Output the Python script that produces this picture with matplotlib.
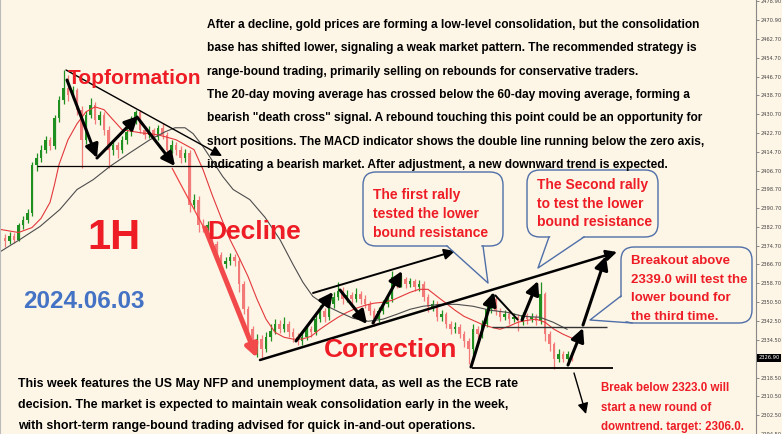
import matplotlib
matplotlib.use("Agg")
import matplotlib.pyplot as plt
import numpy as np
from matplotlib.patches import FancyBboxPatch, Polygon
from matplotlib.transforms import Affine2D, blended_transform_factory

# ---- data (1H gold candles) ----
opens = [2378.1, 2376.5, 2379.0, 2377.3, 2383.3, 2385.8, 2388.4, 2409.2, 2412.2, 2415.6,
         2419.8, 2417.3, 2429.2, 2436.8, 2441.9, 2438.9, 2441.1, 2432.6, 2419.8, 2430.4,
         2434.7, 2428.3, 2430.4, 2424.1, 2415.6, 2417.7, 2415.6, 2419.8, 2423.2, 2428.3,
         2431.7, 2424.1, 2421.9, 2424.1, 2421.1, 2424.9, 2421.9, 2415.6, 2417.7, 2415.6,
         2412.2, 2414.3, 2392.2, 2394.3, 2383.7, 2382.4, 2383.3, 2375.2, 2370.9, 2366.7,
         2368.0, 2369.7, 2368.0, 2358.2, 2347.6, 2339.1, 2332.7, 2334.9, 2330.6, 2335.7,
         2338.3, 2341.2, 2339.1, 2341.2, 2337.8, 2335.7, 2334.0, 2335.7, 2339.1, 2337.8,
         2343.4, 2346.8, 2344.2, 2349.7, 2352.7, 2355.3, 2351.9, 2353.6, 2351.9, 2354.0,
         2351.9, 2349.7, 2346.8, 2343.4, 2346.8, 2349.7, 2351.9, 2361.2, 2358.2, 2360.4,
         2358.2, 2359.5, 2357.0, 2358.2, 2352.7, 2348.5, 2349.7, 2344.2, 2345.5, 2341.2,
         2339.1, 2340.0, 2337.0, 2334.0, 2330.6, 2339.1, 2337.0, 2341.2, 2347.6, 2351.9,
         2346.8, 2344.2, 2345.5, 2343.4, 2344.2, 2342.5, 2345.1, 2343.4, 2344.2, 2342.5,
         2354.0, 2337.0, 2332.7, 2326.4, 2328.5, 2326.4, 2328.5]
closes = [2376.5, 2379.0, 2377.3, 2383.3, 2385.8, 2388.4, 2409.2, 2412.2, 2415.6, 2419.8,
          2417.3, 2429.2, 2436.8, 2441.9, 2438.9, 2441.1, 2432.6, 2419.8, 2430.4, 2434.7,
          2428.3, 2430.4, 2424.1, 2415.6, 2417.7, 2415.6, 2419.8, 2423.2, 2428.3, 2431.7,
          2424.1, 2421.9, 2424.1, 2421.1, 2424.9, 2421.9, 2415.6, 2417.7, 2415.6, 2412.2,
          2414.3, 2392.2, 2394.3, 2383.7, 2382.4, 2383.3, 2375.2, 2370.9, 2366.7, 2368.0,
          2369.7, 2368.0, 2358.2, 2347.6, 2339.1, 2332.7, 2334.9, 2330.6, 2335.7, 2338.3,
          2341.2, 2339.1, 2341.2, 2337.8, 2335.7, 2334.0, 2335.7, 2339.1, 2337.8, 2343.4,
          2346.8, 2344.2, 2349.7, 2352.7, 2355.3, 2351.9, 2353.6, 2351.9, 2354.0, 2351.9,
          2349.7, 2346.8, 2343.4, 2346.8, 2349.7, 2351.9, 2361.2, 2358.2, 2360.4, 2358.2,
          2359.5, 2357.0, 2358.2, 2352.7, 2348.5, 2349.7, 2344.2, 2345.5, 2341.2, 2339.1,
          2340.0, 2337.0, 2334.0, 2330.6, 2339.1, 2337.0, 2341.2, 2347.6, 2351.9, 2346.8,
          2344.2, 2345.5, 2343.4, 2344.2, 2342.5, 2345.1, 2343.4, 2344.2, 2342.5, 2354.0,
          2337.0, 2332.7, 2326.4, 2328.5, 2326.4, 2328.5, 2326.9]
highs = [2379.5, 2380.5, 2380.0, 2384.5, 2387.5, 2390.5, 2410.5, 2414.0, 2417.5, 2421.5,
         2421.0, 2430.5, 2438.5, 2449.6, 2447.4, 2442.5, 2442.0, 2434.0, 2432.0, 2437.7,
         2436.0, 2432.0, 2431.5, 2425.5, 2419.5, 2419.0, 2421.5, 2425.0, 2430.0, 2432.6,
         2432.5, 2425.5, 2425.5, 2425.0, 2426.0, 2427.1, 2423.0, 2419.5, 2419.0, 2417.0,
         2416.0, 2415.5, 2396.5, 2396.0, 2386.0, 2385.0, 2384.5, 2376.5, 2372.0, 2370.0,
         2371.5, 2371.0, 2369.5, 2359.5, 2349.0, 2340.5, 2337.0, 2336.5, 2338.0, 2341.5,
         2343.5, 2343.0, 2344.5, 2342.5, 2339.5, 2337.5, 2337.5, 2341.0, 2340.5, 2345.0,
         2349.5, 2348.0, 2352.0, 2355.0, 2359.1, 2357.0, 2356.0, 2355.0, 2356.5, 2355.5,
         2353.5, 2351.0, 2348.0, 2348.5, 2351.5, 2353.5, 2363.7, 2362.5, 2362.0, 2361.5,
         2361.0, 2360.5, 2360.0, 2359.5, 2354.0, 2351.5, 2351.0, 2347.5, 2346.5, 2342.5,
         2342.0, 2341.5, 2338.5, 2335.5, 2341.5, 2340.5, 2343.0, 2349.5, 2354.0, 2353.0,
         2348.0, 2347.5, 2347.0, 2346.0, 2345.5, 2346.5, 2346.0, 2346.0, 2345.5, 2359.1,
         2355.0, 2338.5, 2333.5, 2330.5, 2330.0, 2330.0, 2329.5]
lows = [2374.0, 2375.5, 2375.8, 2376.5, 2382.0, 2384.5, 2387.5, 2406.5, 2410.5, 2414.0,
        2415.5, 2416.0, 2427.5, 2435.0, 2436.5, 2437.0, 2430.5, 2407.9, 2418.0, 2429.0,
        2426.5, 2426.0, 2422.0, 2407.9, 2413.5, 2412.0, 2414.0, 2418.0, 2421.5, 2426.5,
        2422.5, 2420.0, 2420.5, 2419.5, 2419.5, 2420.0, 2413.5, 2414.0, 2413.5, 2410.0,
        2410.5, 2389.2, 2390.5, 2380.7, 2380.5, 2381.0, 2373.0, 2368.5, 2364.0, 2365.0,
        2366.5, 2366.0, 2354.8, 2345.5, 2337.0, 2330.0, 2327.2, 2326.4, 2329.5, 2334.0,
        2337.0, 2337.5, 2338.0, 2336.0, 2333.5, 2332.5, 2332.5, 2334.5, 2336.0, 2336.5,
        2342.0, 2342.0, 2343.0, 2348.0, 2351.5, 2350.0, 2350.5, 2350.0, 2350.5, 2350.0,
        2348.0, 2345.0, 2340.4, 2342.0, 2345.5, 2348.5, 2350.5, 2356.5, 2357.0, 2356.5,
        2357.0, 2355.5, 2355.5, 2351.0, 2346.5, 2347.0, 2342.5, 2342.5, 2339.5, 2337.0,
        2337.5, 2335.5, 2331.5, 2324.2, 2326.4, 2334.5, 2335.5, 2340.0, 2346.0, 2345.0,
        2342.5, 2343.0, 2341.5, 2342.0, 2338.5, 2341.0, 2341.5, 2342.0, 2341.0, 2341.5,
        2334.0, 2330.0, 2322.1, 2325.0, 2325.0, 2325.5, 2325.5]

# moving averages sampled along the chart (candle index, price)
ma20_x = [-1, 3, 6, 8, 10, 11, 12, 14, 16, 18, 20, 22, 24, 26, 30, 34, 38, 40, 42, 44,
          46, 48, 50, 52, 54, 56, 58, 60, 62, 64, 66, 68, 70, 72, 74, 76, 78, 80, 82, 84,
          86, 88, 90, 92, 94, 96, 98, 100, 102, 104, 106, 108, 110, 112, 114, 116, 118,
          120, 122, 124, 126]
ma20 = [2381.6, 2380.3, 2382.4, 2386.3, 2393.1, 2400.7, 2409.2, 2419.8, 2426.6, 2431.7,
        2433.8, 2432.6, 2428.3, 2424.1, 2422.8, 2421.9, 2419.8, 2417.7, 2415.6, 2407.1,
        2396.5, 2386.7, 2377.3, 2369.7, 2361.6, 2351.9, 2343.4, 2337.8, 2335.7, 2334.9,
        2334.9, 2336.1, 2339.1, 2341.7, 2344.2, 2346.3, 2348.0, 2349.3, 2350.2, 2350.6,
        2351.4, 2353.1, 2354.8, 2356.1, 2356.1, 2353.1, 2350.2, 2347.2, 2344.6, 2342.9,
        2341.2, 2340.0, 2339.1, 2340.4, 2342.1, 2342.9, 2343.4, 2342.1, 2339.1, 2337.0,
        2335.3]
ma60_x = [-1, 3.3, 7.8, 12.2, 16, 19.6, 23.3, 27.8, 32.2, 35.6, 37.8, 40, 41.8, 44, 46.2,
          48.4, 50.7, 54.4, 57.8, 61.1, 64, 66.2, 68.4, 71.6, 74.4, 77.3, 80.7, 84, 87.1,
          90, 92.9, 96.7, 100.4, 104, 107.8, 111.6, 115.1, 118.9, 121.8, 124.9]
ma60 = [2372.2, 2377.3, 2382.9, 2390.1, 2398.6, 2402.8, 2408.4, 2414.3, 2419.8, 2423.2,
        2424.9, 2424.9, 2422.4, 2416.9, 2410.5, 2404.1, 2398.6, 2394.3, 2386.7, 2377.3,
        2366.7, 2359.1, 2353.1, 2348.9, 2346.3, 2343.8, 2342.5, 2343.4, 2345.5, 2347.6,
        2348.9, 2349.7, 2349.7, 2348.9, 2347.2, 2346.3, 2344.6, 2344.2, 2342.1, 2339.1]

price_ticks = [2478.9, 2470.9, 2462.7, 2454.7, 2446.7, 2438.7, 2430.7, 2422.7, 2414.7,
               2406.7, 2398.7, 2390.7, 2382.7, 2374.7, 2366.7, 2358.7, 2350.5, 2342.5,
               2334.5, 2318.5, 2310.5, 2302.5, 2294.5]
last_price = 2326.90

top_lines = [
    "After a decline, gold prices are forming a low-level consolidation, but the consolidation",
    "base has shifted lower, signaling a weak market pattern. The recommended strategy is",
    "range-bound trading, primarily selling on rebounds for conservative traders.",
    "The 20-day moving average has crossed below the 60-day moving average, forming a",
    "bearish \"death cross\" signal. A rebound touching this point could be an opportunity for",
    "short positions. The MACD indicator shows the double line running below the zero axis,",
    "indicating a bearish market. After adjustment, a new downward trend is expected.",
]
bottom_lines = [
    "This week features the US May NFP and unemployment data, as well as the ECB rate",
    "decision. The market is expected to maintain weak consolidation early in the week,",
    "with short-term range-bound trading advised for quick in-and-out operations.",
]
box1_lines = ["The first rally", "tested the lower", "bound resistance"]
box2_lines = ["The Second rally", "to test the lower", "bound resistance"]
box3_lines = ["Breakout above", "2339.0 will test the", "lower bound for", "the third time."]
break_lines = ["Break below 2323.0 will", "start a new round of", "downtrend. target: 2306.0."]

# ---- figure ----
BG = "#fdf5e6"
RED = "#ee1c25"
W, H = 782, 434
fig = plt.figure(figsize=(W / 100, H / 100), dpi=100, facecolor=BG)
ax = fig.add_axes([0, 0, 756 / W, 1], facecolor=BG)
ax.set_xlim(-5 / 4.5, (756 - 5) / 4.5)
ax.set_ylim(2295.0, 2479.3)

# pixel coords of the picture (y down) for the hand-drawn annotations
pix = Affine2D().scale(1 / W, -1 / H).translate(0, 1) + fig.transFigure

# candles
o, h, l, c = map(np.array, (opens, highs, lows, closes))
idx = np.arange(len(c))
cols = np.where(c >= o, "#1f8f1f", "#f27a78")
ax.vlines(idx, l, h, colors=cols, lw=0.9, zorder=2)
ax.bar(idx, np.maximum(np.abs(c - o), 0.35), bottom=np.minimum(o, c), width=0.62,
       color=cols, zorder=2)

# moving averages
ax.plot(ma20_x, ma20, color="#e3393c", lw=0.8, zorder=2)
ax.plot(ma60_x, ma60, color="#4d4d4d", lw=0.8, zorder=2)

# axis
ax.yaxis.tick_right()
ax.set_yticks(price_ticks)
ax.set_yticklabels([f"{v:.2f}" for v in price_ticks])
ax.tick_params(axis="y", labelsize=3.7, labelcolor="#444444", color="#777777",
               length=2, width=0.6, pad=1)
ax.set_xticks([])
for s in ("top", "bottom"):
    ax.spines[s].set_visible(False)
ax.spines["right"].set_color("#888888")
ax.spines["left"].set_color("#bbbbbb")
ax.text(1.003, last_price, f"{last_price:.2f}",
        transform=blended_transform_factory(ax.transAxes, ax.transData),
        fontsize=3.7, color="white", va="center", ha="left",
        bbox=dict(fc="black", ec="none", pad=1.0))


def seg(p0, p1, lw=1.0, color="black"):
    ax.plot([p0[0], p1[0]], [p0[1], p1[1]], transform=pix, color=color, lw=lw,
            zorder=3, clip_on=False, solid_capstyle="butt")


def arrow(p0, p1, lw=2.2, color="black", ms=10, hl=0.8, hw=0.4):
    ax.annotate("", xy=p1, xytext=p0, xycoords=pix, textcoords=pix,
                annotation_clip=False, zorder=3,
                arrowprops=dict(arrowstyle=f"-|>,head_length={hl},head_width={hw}",
                                lw=lw, color=color, shrinkA=0, shrinkB=0,
                                mutation_scale=ms))


# top formation
seg((37, 166), (233, 166), lw=0.9)
arrow((66, 70), (222, 156), lw=1.0, ms=8)
arrow((67, 80), (97, 158))
arrow((97, 158), (138, 116))
arrow((137, 117), (175, 166))
# decline
seg((172, 168), (212, 243), lw=0.9, color="#f04545")
arrow((205, 228), (257, 358), lw=3.6, color="#f24a4a", ms=9)
# channel
arrow((313, 293), (455, 251), lw=1.4, ms=8)
arrow((260, 360), (617, 252), lw=1.8, ms=8)
arrow((296, 341), (333, 292))
arrow((340, 290), (367, 324))
arrow((373, 323), (402, 271))
arrow((471, 367), (494, 292))
seg((495, 295), (518, 320), lw=1.4)
arrow((522, 320), (538, 281))
seg((492, 327), (607, 327), lw=1.0, color="#333333")
seg((472, 368), (613, 368), lw=1.3)
arrow((568, 365), (583, 328))
arrow((583, 325), (606, 256))
arrow((574, 373), (586, 414), lw=1.0, ms=8)

# callout boxes
boxes = [((363, 172, 140, 74), [(447, 246), (488, 283), (483, 246)]),
         ((527, 170, 131, 67), [(549, 237), (538, 268), (584, 237)]),
         ((621, 247, 131, 76), [(621, 296), (590, 320), (632, 323)])]
for (bx, by, bw, bh), tail in boxes:
    ax.add_patch(FancyBboxPatch((bx, by), bw, bh, boxstyle="round,pad=0,rounding_size=13",
                                transform=pix, fc=BG, ec="#4f6fa8", lw=1.0, zorder=4,
                                clip_on=False))
    cx, cy = bx + bw / 2, by + bh / 2
    inner = [(px + (cx - px) * 0.04, py + (cy - py) * 0.04) for px, py in tail]
    ax.add_patch(Polygon([inner[0], tail[1], inner[2]], closed=True, transform=pix,
                         fc=BG, ec="none", zorder=4.1, clip_on=False))
    ax.plot([tail[0][0], tail[1][0], tail[2][0]], [tail[0][1], tail[1][1], tail[2][1]],
            transform=pix, color="#4f6fa8", lw=1.0, zorder=4.2, clip_on=False)

arial = ["Liberation Sans", "DejaVu Sans"]


def lines(x, ys, texts, size, color="black"):
    for y, t in zip(ys, texts):
        ax.text(x, y, t, transform=pix, fontsize=size, color=color, family=arial,
                fontweight="bold", va="center", ha="left", zorder=5, clip_on=False)


lines(207, [25, 48, 72, 95, 118, 142, 165], top_lines, 8.6)
lines(18, [384, 405, 426], bottom_lines, 8.9)
lines(373, [195, 214, 233], box1_lines, 10, RED)
lines(537, [185, 204, 222], box2_lines, 10, RED)
lines(631, [261, 280, 298, 317], box3_lines, 9.5, RED)
lines(601, [388, 408, 427], break_lines, 8.3, RED)

for (x, y), t, size, color in [((134, 78), "Topformation", 15, RED),
                               ((114, 238), "1H", 30, RED),
                               ((254, 232), "Decline", 19, RED),
                               ((391, 350), "Correction", 19, RED),
                               ((84, 302), "2024.06.03", 17.5, "#4472c4")]:
    ax.text(x, y, t, transform=pix, fontsize=size, color=color, family=arial,
            fontweight="bold", va="center", ha="center", zorder=5)

fig.savefig("out.png", dpi=100, facecolor=BG)
